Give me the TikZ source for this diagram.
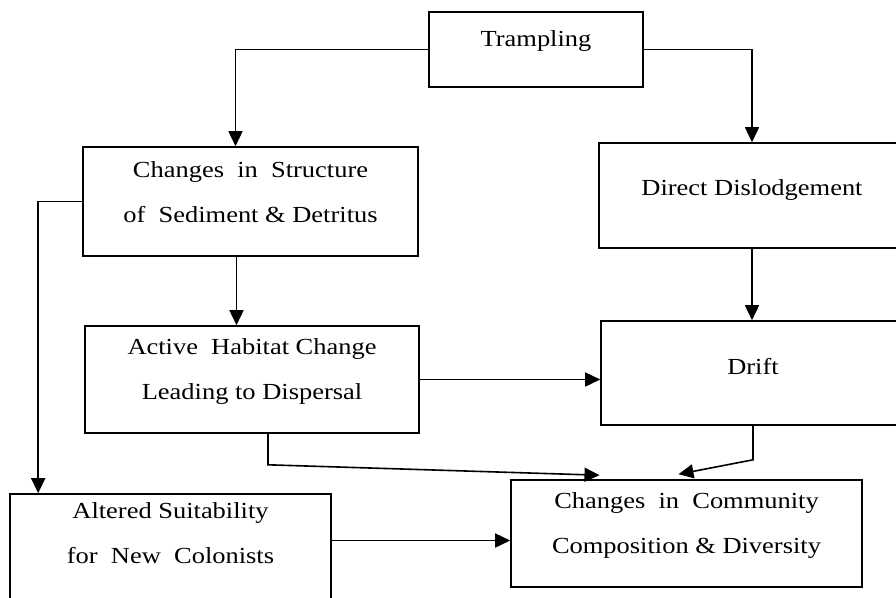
\documentclass[tikz,border=0pt]{standalone}
\usepackage{fontspec}
\setmainfont[FakeStretch=1.15]{Liberation Serif}
\usetikzlibrary{arrows.meta}

\begin{document}
\begin{tikzpicture}[x=1pt,y=-1pt,
    box/.style={draw,line width=1.6pt,inner sep=0pt,align=center,
      font=\fontsize{23}{45}\selectfont},
    lift/.style={execute at end node={\rule[-#1]{0pt}{#1}}},
    arr/.style={line width=1.6pt,-{Triangle[length=15pt,width=14pt]}}]
  \useasboundingbox (0,0) rectangle (896,597);
  \clip (0,0) rectangle (896,597);

  % boxes
  \node[box,lift=22.5pt,minimum width=214pt,minimum height=75pt] (tramp) at (536,49.5) {Trampling};
  \node[box,lift=19.5pt,minimum width=335pt,minimum height=109pt] (struct) at (250.5,201.5)
    {Changes~~in~~Structure\\of~~Sediment \& Detritus};
  \node[box,lift=16.5pt,minimum width=306pt,minimum height=105pt] (direct) at (752,195.5) {Direct Dislodgement};
  \node[box,lift=21.5pt,minimum width=334pt,minimum height=107pt] (active) at (252,379.5)
    {Active~~Habitat Change\\Leading to Dispersal};
  \node[box,lift=13.5pt,minimum width=304pt,minimum height=104pt] (drift) at (753,373) {Drift};
  \node[box,lift=27.5pt,minimum width=321pt,minimum height=105pt] (altered) at (170.5,546.5)
    {Altered Suitability\\for~~New~~Colonists};
  \node[box,lift=21.5pt,minimum width=351pt,minimum height=107pt] (comm) at (686.5,533.5)
    {Changes~~in~~Community\\Composition \& Diversity};

  % connectors
  \draw[arr] (tramp.west) -| ([xshift=-15pt]struct.north);
  \draw[arr] (tramp.east) -| (direct.north);
  \draw[arr] (struct.west) -| ([xshift=29pt]altered.north west);
  \draw[arr] ([xshift=-14pt]struct.south) -- ([xshift=-14pt]struct.south |- active.north);
  \draw[arr] (direct.south) -- (direct.south |- drift.north);
  \draw[arr] (active.east) -- (active.east -| drift.west);
  \draw[arr] ([xshift=16pt]active.south) -- ++(0,31) -- ([xshift=-87pt,yshift=4pt]comm.north);
  \draw[arr] (drift.south) -- ++(0,34) -- ([xshift=-8pt,yshift=5pt]comm.north);
  \draw[arr] ([yshift=6pt]altered.east) -- ([yshift=6pt]altered.east -| comm.west);
\end{tikzpicture}
\end{document}
